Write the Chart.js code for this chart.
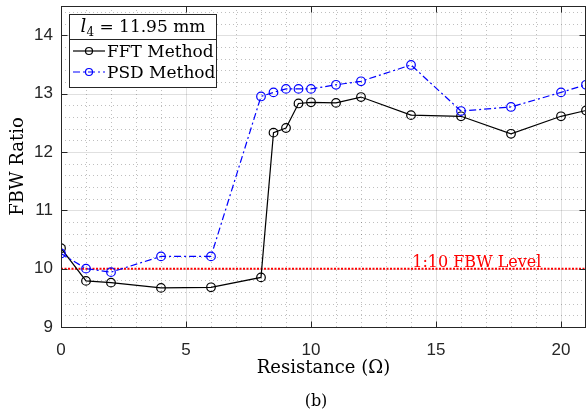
<!DOCTYPE html>
<html><head><meta charset="utf-8">
<script src="https://cdn.jsdelivr.net/npm/chart.js@4"></script>
<style>html,body{margin:0;padding:0;background:#fff}#wrap{width:587px;height:412px}</style>
</head><body><div id="wrap"><canvas id="c" width="587" height="412"></canvas></div>
<script>
const resistance = [0,1,2,4,6,8,8.5,9,9.5,10,11,12,14,16,18,20,21];
const fftRatio = [10.35,9.79,9.76,9.67,9.68,9.85,12.33,12.41,12.83,12.85,12.84,12.94,12.63,12.61,12.31,12.61,12.71];
const psdRatio = [10.26,10.0,9.94,10.21,10.21,12.95,13.02,13.08,13.08,13.08,13.15,13.21,13.49,12.70,12.77,13.02,13.15];
const refX = [0,21];
const refY = [10,10];
const xTicks = [0,5,10,15,20];
const yTicks = [9,10,11,12,13,14];
const legendTitle = ['l','4',' = 11.95 mm'];
const seriesNames = ['FFT Method','PSD Method'];
const refLabel = '1:10 FBW Level';
const xTitle = 'Resistance (\u03A9)';
const yTitle = 'FBW Ratio';
const caption = '(b)';

const AX = '#262626';
const SERIF = '"DejaVu Serif", serif';
const SANS = '"Liberation Sans", Arial, sans-serif';
const psdDash = [7,3,2,3];

const pts = (xs, ys) => xs.map((x,i)=>({x, y: ys[i]}));
const noPad = s => { s.paddingTop=0; s.paddingBottom=0; s.paddingLeft=0; s.paddingRight=0; };

const decor = {
  id:'decor',
  beforeDatasetsDraw(chart){
    const {ctx, chartArea:a, scales:{x,y}} = chart;
    ctx.save();
    ctx.strokeStyle = 'rgba(0,0,0,0.25)'; ctx.lineWidth = 1; ctx.setLineDash([1,3]);
    for (let v=1; v<21; v++){ if (v%5===0) continue; const px=Math.round(x.getPixelForValue(v))+0.5; ctx.beginPath(); ctx.moveTo(px,a.top); ctx.lineTo(px,a.bottom); ctx.stroke(); }
    for (let k=1; k<28; k++){ const v=9+k*0.2; if (Math.abs(v-Math.round(v))<1e-6) continue; const py=Math.round(y.getPixelForValue(v))+0.5; ctx.beginPath(); ctx.moveTo(a.left,py); ctx.lineTo(a.right,py); ctx.stroke(); }
    ctx.setLineDash([]); ctx.strokeStyle = 'rgba(0,0,0,0.12)';
    xTicks.forEach(v=>{ if(v===0) return; const px=Math.round(x.getPixelForValue(v))+0.5; ctx.beginPath(); ctx.moveTo(px,a.top); ctx.lineTo(px,a.bottom); ctx.stroke(); });
    yTicks.forEach(v=>{ if(v===9) return; const py=Math.round(y.getPixelForValue(v))+0.5; ctx.beginPath(); ctx.moveTo(a.left,py); ctx.lineTo(a.right,py); ctx.stroke(); });
    ctx.restore();
  },
  afterDatasetsDraw(chart){
    const {ctx, chartArea:a, scales:{x,y}} = chart;
    ctx.save();
    ctx.fillStyle = '#ff0000'; ctx.font = '16px '+SERIF; ctx.textBaseline='alphabetic'; ctx.textAlign='left';
    ctx.fillText(refLabel, x.getPixelForValue(14.05), y.getPixelForValue(10)-2);
    ctx.strokeStyle = AX; ctx.lineWidth = 1;
    const L=Math.round(a.left)+0.5, R=Math.round(a.right)-0.5, T=Math.round(a.top)+0.5, B=Math.round(a.bottom)+0.5;
    ctx.strokeRect(L,T,R-L,B-T);
    const tl=6;
    xTicks.forEach(v=>{ const px=Math.round(x.getPixelForValue(v))+0.5; ctx.beginPath(); ctx.moveTo(px,B); ctx.lineTo(px,B-tl); ctx.moveTo(px,T); ctx.lineTo(px,T+tl); ctx.stroke(); });
    yTicks.forEach(v=>{ const py=Math.round(y.getPixelForValue(v))+0.5; ctx.beginPath(); ctx.moveTo(L,py); ctx.lineTo(L+tl,py); ctx.moveTo(R,py); ctx.lineTo(R-tl,py); ctx.stroke(); });
    const bx=69.5, by=14.5, bw=147, bh=73, div=39.5;
    ctx.fillStyle='#fff'; ctx.fillRect(bx,by,bw,bh);
    ctx.strokeRect(bx,by,bw,bh);
    ctx.beginPath(); ctx.moveTo(bx,div); ctx.lineTo(bx+bw,div); ctx.stroke();
    ctx.fillStyle='#000';
    const f1='italic 18px '+SERIF, f2='12px '+SERIF, f3='17px '+SERIF;
    ctx.font=f1; const w1=ctx.measureText(legendTitle[0]).width;
    ctx.font=f2; const w2=ctx.measureText(legendTitle[1]).width;
    ctx.font=f3; const w3=ctx.measureText(legendTitle[2]).width;
    let tx = bx + bw/2 - (w1+w2+w3)/2; const tb=32;
    ctx.font=f1; ctx.fillText(legendTitle[0],tx,tb); tx+=w1;
    ctx.font=f2; ctx.fillText(legendTitle[1],tx,tb+4); tx+=w2;
    ctx.font=f3; ctx.fillText(legendTitle[2],tx,tb);
    const entries=[{c:'#000',dash:[],yb:57,yc:51},{c:'#0000ff',dash:psdDash,yb:78,yc:72}];
    entries.forEach((e,i)=>{
      ctx.strokeStyle=e.c; ctx.lineWidth=1.2; ctx.setLineDash(e.dash);
      ctx.beginPath(); ctx.moveTo(73,e.yc); ctx.lineTo(105,e.yc); ctx.stroke();
      ctx.setLineDash([]);
      ctx.beginPath(); ctx.arc(89,e.yc,3.5,0,Math.PI*2); ctx.stroke();
      ctx.fillStyle='#000'; ctx.font=f3; ctx.fillText(seriesNames[i],107,e.yb);
    });
    ctx.font='16px '+SERIF; ctx.textAlign='center'; ctx.fillStyle='#000';
    ctx.fillText(caption, 316, 406);
    ctx.restore();
  }
};

new Chart(document.getElementById('c'), {
  type:'line',
  data:{datasets:[
    {label:'1:10 FBW Level', data:pts(refX,refY), borderColor:'#ff0000', borderWidth:2, borderDash:[2,1.5], pointRadius:0, order:3},
    {label:seriesNames[0], data:pts(resistance,fftRatio), borderColor:'#000', borderWidth:1.2, pointRadius:4.3, pointStyle:'circle', pointBackgroundColor:'rgba(0,0,0,0)', pointBorderColor:'#000', pointBorderWidth:1.2, order:2},
    {label:seriesNames[1], data:pts(resistance,psdRatio), borderColor:'#0000ff', borderWidth:1.2, borderDash:psdDash, pointRadius:4.3, pointStyle:'circle', pointBackgroundColor:'rgba(0,0,0,0)', pointBorderColor:'#0000ff', pointBorderWidth:1.2, order:1}
  ]},
  options:{
    responsive:false, animation:false, devicePixelRatio:1,
    layout:{autoPadding:false, padding:{top:6,right:1,left:0,bottom:0}},
    plugins:{legend:{display:false}, tooltip:{enabled:false}},
    scales:{
      x:{type:'linear', min:0, max:21,
        afterBuildTicks:s=>{s.ticks=xTicks.map(v=>({value:v}));},
        afterFit:s=>{s.height=85; noPad(s);},
        grid:{display:false, drawTicks:false}, border:{display:false},
        ticks:{autoSkip:false, maxRotation:0, padding:13, color:AX, font:{family:SANS, size:17}},
        title:{display:true, text:xTitle, color:'#000', font:{family:SERIF, size:18, lineHeight:1}, padding:{top:0,bottom:35}}
      },
      y:{type:'linear', min:9, max:14.5,
        afterBuildTicks:s=>{s.ticks=yTicks.map(v=>({value:v}));},
        afterFit:s=>{s.width=61; noPad(s);},
        grid:{display:false, drawTicks:false}, border:{display:false},
        ticks:{padding:8, color:AX, font:{family:SANS, size:17}},
        title:{display:true, text:yTitle, color:'#000', font:{family:SERIF, size:18, lineHeight:1}, padding:{top:9,bottom:0}}
      }
    }
  },
  plugins:[decor]
});
</script>
</body></html>
